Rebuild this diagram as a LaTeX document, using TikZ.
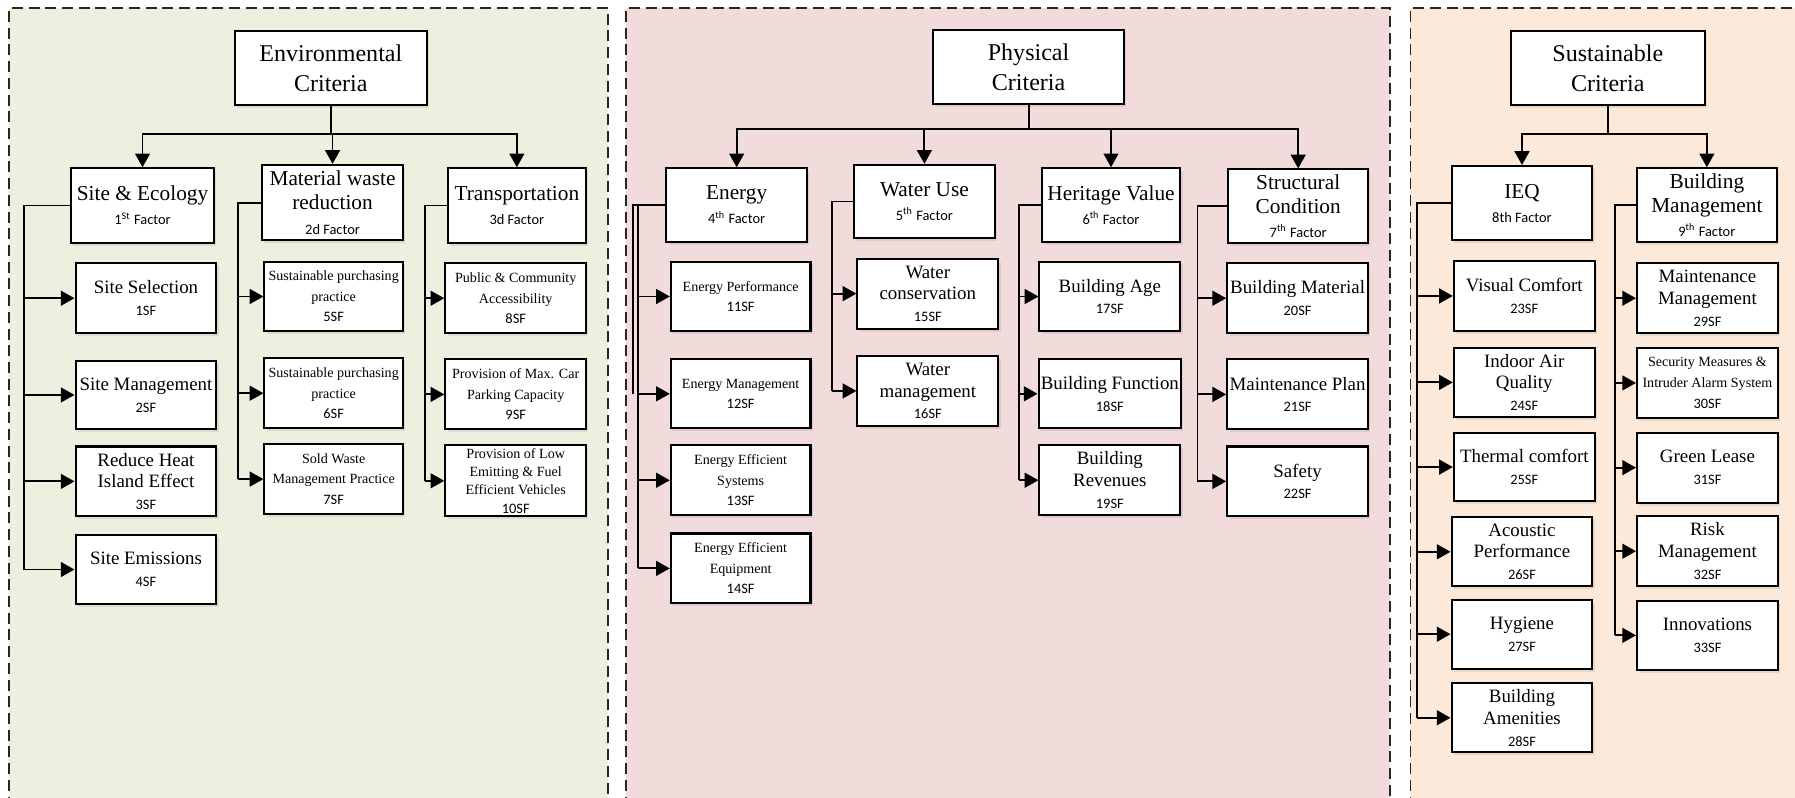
\documentclass[tikz,border=0pt]{standalone}
\usepackage{fontspec}
\setmainfont{Liberation Serif}
\newfontfamily\sfn{Carlito}
\usetikzlibrary{arrows.meta,shadows}

\definecolor{envbg}{HTML}{EBF1DE}
\definecolor{phybg}{HTML}{F2DCDB}
\definecolor{susbg}{HTML}{FDE9D9}

\tikzset{
  panel/.style={dash pattern=on 4.8pt off 2.5pt, line width=0.75pt, draw=black!85},
  box/.style={draw, fill=white, line width=0.9pt, align=center, inner sep=1pt,
    drop shadow={shadow xshift=1pt, shadow yshift=-1.3pt, opacity=0.18}},
  crit/.style={font=\fontsize{10.5}{13}\selectfont},
  fac/.style={font=\fontsize{9.3}{10.5}\selectfont},
  med/.style={font=\fontsize{8.25}{9.5}\selectfont},
  sml/.style={font=\fontsize{6.15}{9}\selectfont},
  link/.style={line width=0.8pt},
  arr/.style={link, -{Triangle[length=6pt,width=6.5pt]}},
}

% small sans label (factor numbers)
\newcommand{\sfl}[1]{{\sfn\fontsize{6.3}{7.5}\selectfont #1}}
% box from corner (x1,y1) to (x2,y2)
\newcommand{\bx}[7]{\node[box,#6,minimum width={(#4-#2)*0.5pt},minimum height={(#5-#3)*0.5pt}] (#1) at ({(#2+#4)/2},{(#3+#5)/2}) {#7};}
% vertical bar at x=#2 from the parent #1 down to #3, with arrows to each of #4
\newcommand{\grp}[4]{%
  \coordinate (#1bar) at (#2,0);
  \draw[link] (#1.west) -| (#1bar |- #3.west);
  \foreach \n in {#4} {\draw[arr] (#1bar |- \n.west) -- (\n.west);}
}

\begin{document}
\begin{tikzpicture}[x=0.5pt,y=-0.5pt]
\path[use as bounding box] (0,0) rectangle (1568,697);
\clip (0,0) rectangle (1568,697);

% panels
\fill[envbg] (8,7) rectangle (531,720);
\draw[panel] (8,720) -- (8,7) -- (531,7) -- (531,720);
\fill[phybg] (547,7) rectangle (1214,720);
\draw[panel] (547,720) -- (547,7) -- (1214,7) -- (1214,720);
\fill[susbg] (1232,7) rectangle (1600,720);
\draw[panel] (1232,720) -- (1232,7) -- (1600,7);

% ---------------- Environmental ----------------
\bx{env}{205}{27}{373}{92}{crit}{Environmental\\Criteria}
\bx{site}{62}{147}{187}{212}{fac}{Site \& Ecology\\\sfl{1\textsuperscript{St} Factor}}
\bx{mat}{229}{144}{352}{210}{fac}{Material waste\\reduction\\\sfl{2d Factor}}
\bx{tra}{391}{147}{512}{212}{fac}{Transportation\\\sfl{3d Factor}}

\bx{sf1}{66}{230}{189}{291}{med}{Site Selection\\\sfl{1SF}}
\bx{sf2}{66}{315}{189}{375}{med}{Site Management\\\sfl{2SF}}
\bx{sf3}{66}{390}{189}{451}{med}{Reduce Heat\\Island Effect\\\sfl{3SF}}
\bx{sf4}{66}{467}{189}{528}{med}{Site Emissions\\\sfl{4SF}}

\bx{sf5}{231}{229}{352}{289}{sml}{Sustainable purchasing\\practice\\\sfl{5SF}}
\bx{sf6}{231}{313}{352}{374}{sml}{Sustainable purchasing\\practice\\\sfl{6SF}}
\bx{sf7}{231}{388}{352}{449}{sml}{Sold Waste\\Management Practice\\\sfl{7SF}}

\bx{sf8}{389}{230}{512}{291}{sml}{Public \& Community\\Accessibility\\\sfl{8SF}}
\bx{sf9}{389}{314}{512}{375}{sml}{Provision of Max. Car\\Parking Capacity\\\sfl{9SF}}
\bx{sf10}{389}{389}{512}{451}{sml,font=\fontsize{6.15}{8}\selectfont}{Provision of Low\\Emitting \& Fuel\\Efficient Vehicles\\\sfl{10SF}}

\coordinate (envj) at (289,117);
\draw[link] (env.south) -- (env.south |- envj);
\foreach \t in {site,mat,tra} {\draw[arr] (env.south |- envj) -| (\t.north);}
\grp{site}{21}{sf4}{sf1,sf2,sf3,sf4}
\grp{mat}{208}{sf7}{sf5,sf6,sf7}
\grp{tra}{371}{sf10}{sf8,sf9,sf10}

% ---------------- Physical ----------------
\bx{phy}{815}{26}{982}{91}{crit}{Physical\\Criteria}
\bx{ene}{582}{147}{705}{211}{fac}{Energy\\\sfl{4\textsuperscript{th} Factor}}
\bx{wat}{746}{144}{869}{208}{fac}{Water Use\\\sfl{5\textsuperscript{th} Factor}}
\bx{her}{910}{147}{1031}{211}{fac}{Heritage Value\\\sfl{6\textsuperscript{th} Factor}}
\bx{str}{1073}{148}{1195}{212}{fac}{Structural\\Condition\\\sfl{7\textsuperscript{th} Factor}}

\bx{sf11}{586}{229}{708}{289}{sml}{Energy Performance\\\sfl{11SF}}
\bx{sf12}{586}{314}{708}{374}{sml}{Energy Management\\\sfl{12SF}}
\bx{sf13}{586}{389}{708}{450}{sml}{Energy Efficient\\Systems\\\sfl{13SF}}
\bx{sf14}{586}{466}{708}{527}{sml}{Energy Efficient\\Equipment\\\sfl{14SF}}

\bx{sf15}{749}{226}{872}{287}{med}{Water\\conservation\\\sfl{15SF}}
\bx{sf16}{749}{311}{872}{372}{med}{Water\\management\\\sfl{16SF}}

\bx{sf17}{908}{229}{1031}{289}{med}{Building Age\\\sfl{17SF}}
\bx{sf18}{908}{314}{1031}{374}{med}{Building Function\\\sfl{18SF}}
\bx{sf19}{908}{389}{1031}{450}{med}{Building\\Revenues\\\sfl{19SF}}

\bx{sf20}{1072}{230}{1195}{291}{med}{Building Material\\\sfl{20SF}}
\bx{sf21}{1072}{314}{1195}{375}{med}{Maintenance Plan\\\sfl{21SF}}
\bx{sf22}{1072}{390}{1195}{451}{med}{Safety\\\sfl{22SF}}

\coordinate (phyj) at (898,113);
\draw[link] (phy.south) -- (phy.south |- phyj);
\foreach \t in {ene,wat,her,str} {\draw[arr] (phy.south |- phyj) -| (\t.north);}
% energy: two parallel bars
\coordinate (eneo) at (553,0);
\draw[link] (ene.west) -| (eneo |- sf12.west);
\grp{ene}{557}{sf14}{sf11,sf12,sf13,sf14}
\grp{wat}{727}{sf16}{sf15,sf16}
\grp{her}{890}{sf19}{sf17,sf18,sf19}
\grp{str}{1046}{sf22}{sf20,sf21,sf22}

% ---------------- Sustainable ----------------
\bx{sus}{1320}{27}{1489}{92}{crit}{Sustainable\\Criteria}
\bx{ieq}{1268}{145}{1391}{210}{fac}{IEQ\\\sfl{8th Factor}}
\bx{bm}{1430}{147}{1552}{211}{fac}{Building\\Management\\\sfl{9\textsuperscript{th} Factor}}

\bx{sf23}{1270}{228}{1393}{289}{med}{Visual Comfort\\\sfl{23SF}}
\bx{sf24}{1270}{304}{1393}{364}{med}{Indoor Air\\Quality\\\sfl{24SF}}
\bx{sf25}{1270}{378}{1393}{438}{med}{Thermal comfort\\\sfl{25SF}}
\bx{sf26}{1268}{452}{1391}{512}{med}{Acoustic\\Performance\\\sfl{26SF}}
\bx{sf27}{1268}{524}{1391}{584}{med}{Hygiene\\\sfl{27SF}}
\bx{sf28}{1268}{597}{1391}{657}{med}{Building\\Amenities\\\sfl{28SF}}

\bx{sf29}{1430}{230}{1553}{291}{med}{Maintenance\\Management\\\sfl{29SF}}
\bx{sf30}{1430}{304}{1553}{365}{sml}{Security Measures \&\\Intruder Alarm System\\\sfl{30SF}}
\bx{sf31}{1430}{378}{1553}{439}{med}{Green Lease\\\sfl{31SF}}
\bx{sf32}{1430}{451}{1553}{512}{med}{Risk\\Management\\\sfl{32SF}}
\bx{sf33}{1430}{525}{1553}{585}{med}{Innovations\\\sfl{33SF}}

\coordinate (susj) at (1404,117);
\draw[link] (sus.south) -- (sus.south |- susj);
\foreach \t in {ieq,bm} {\draw[arr] (sus.south |- susj) -| (\t.north);}
\grp{ieq}{1238}{sf28}{sf23,sf24,sf25,sf26,sf27,sf28}
\grp{bm}{1411}{sf33}{sf29,sf30,sf31,sf32,sf33}
\end{tikzpicture}
\end{document}
